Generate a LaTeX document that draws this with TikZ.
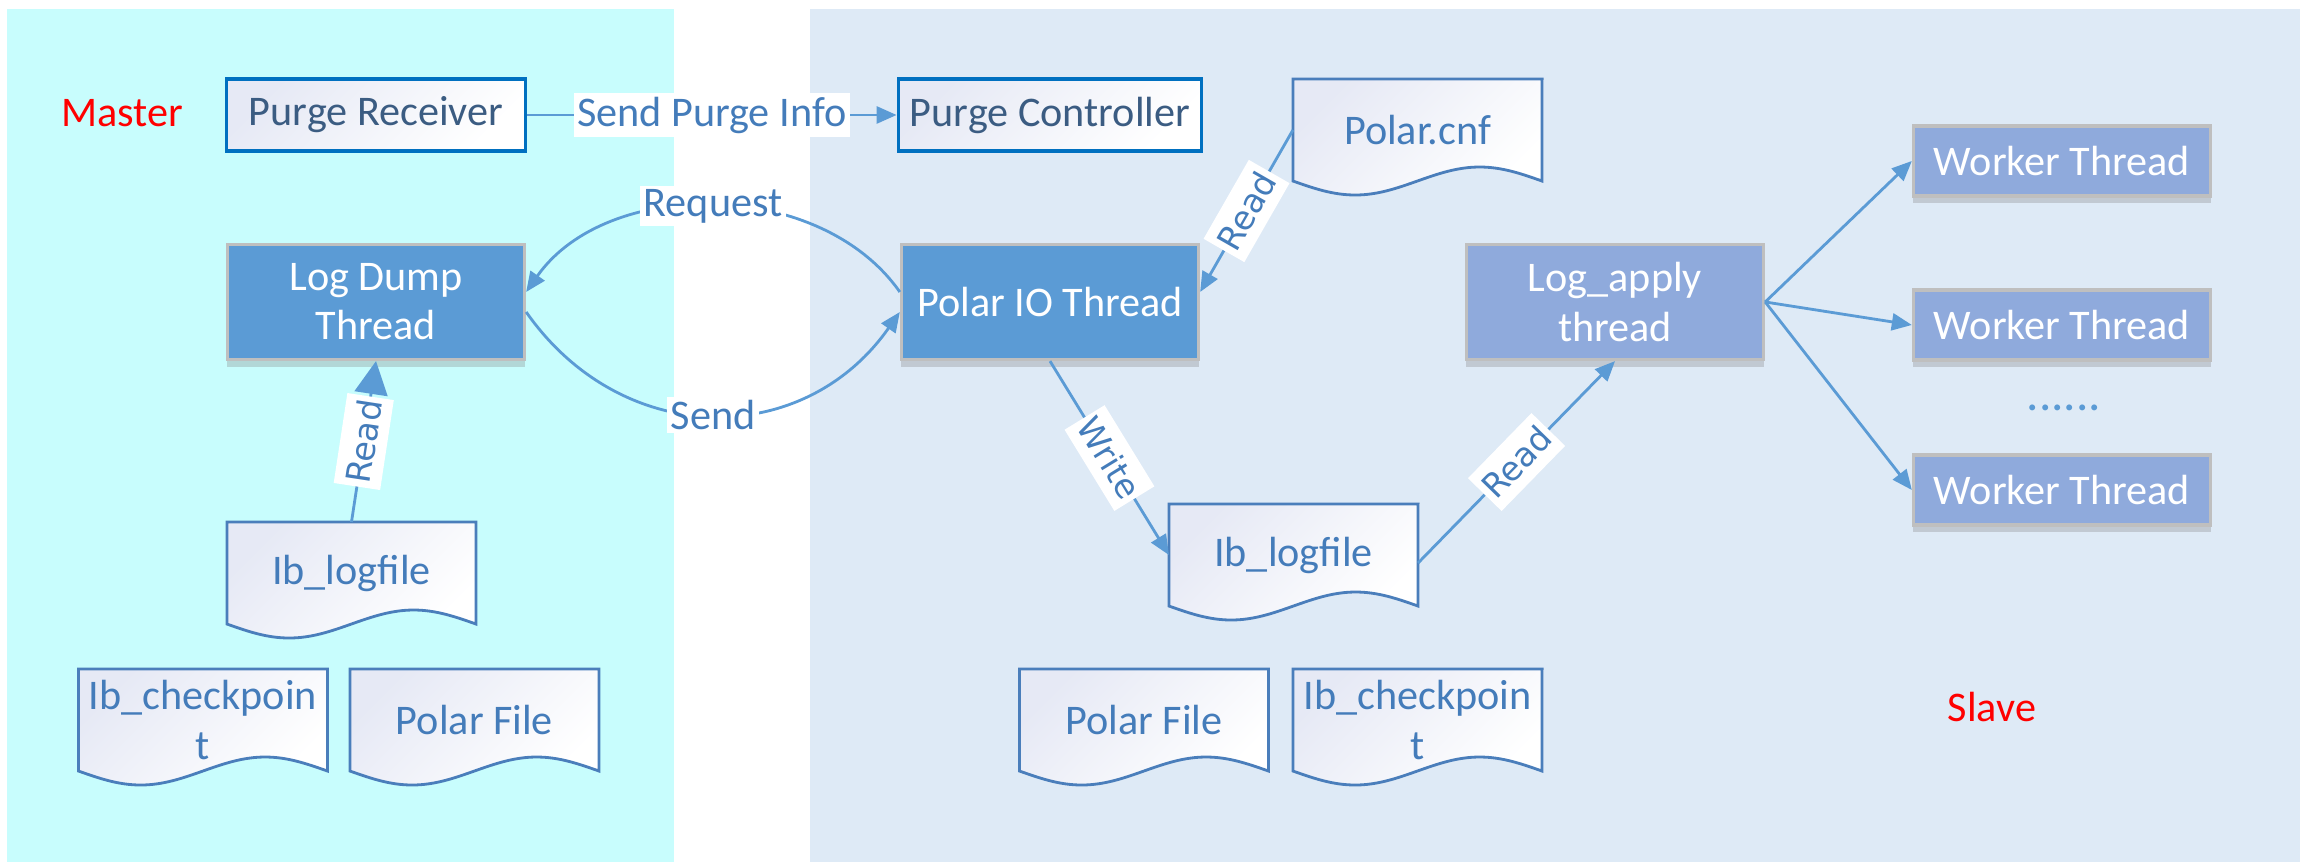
\documentclass[tikz,border=0pt]{standalone}
\usepackage{fontspec}
\setmainfont{Carlito}
\newfontfamily\tagfont{DejaVu Sans}
\usetikzlibrary{arrows.meta,backgrounds,shadows}

\definecolor{masterbg}{RGB}{200,253,253}
\definecolor{slavebg}{RGB}{222,234,246}
\definecolor{dumpblue}{RGB}{91,155,213}
\definecolor{applyblue}{RGB}{143,170,220}
\definecolor{linkblue}{RGB}{91,155,213}
\definecolor{purgeedge}{RGB}{0,112,192}
\definecolor{purgetext}{RGB}{59,92,130}
\definecolor{docedge}{RGB}{74,126,187}
\definecolor{textblue}{RGB}{68,124,186}
\definecolor{papershade}{RGB}{230,233,245}

% file symbol: plain node, wavy outline drawn behind it
\newcommand{\docfile}[3]{%
  \node[doc] (#1) at (#2) {#3};
  \begin{scope}[on background layer]
    \draw[docline] (#1.south west) sin ++(62.25,14) cos ++(62.25,-14)
      sin ++(62.25,-14) cos ++(62.25,14) -- (#1.north east) -- (#1.north west) -- cycle;
  \end{scope}}

\begin{document}
\begin{tikzpicture}[x=0.01cm, y=-0.01cm, font=\fontsize{12}{14}\selectfont,
  >={Triangle[length=2mm,width=1.7mm]},
  purge/.style={draw=purgeedge, line width=0.9pt, top color=papershade, bottom color=white, shading angle=45, text=purgetext, minimum width=2.98cm, minimum height=0.72cm},
  box/.style={draw=black!25, line width=0.9pt, text=white, align=center, minimum width=2.97cm, drop shadow={shadow xshift=0pt, shadow yshift=-0.7mm, opacity=0.3}},
  dumpbox/.style={box, fill=dumpblue, minimum height=1.15cm},
  applybox/.style={box, fill=applyblue, minimum height=1.15cm},
  worker/.style={box, fill=applyblue, minimum height=0.70cm},
  doc/.style={inner sep=0pt, outer sep=0pt, minimum width=2.49cm, minimum height=1.02cm, text=textblue, align=center},
  docline/.style={draw=docedge, line width=0.8pt, top color=papershade, bottom color=white, shading angle=45},
  link/.style={draw=linkblue, line width=0.8pt},
  tag/.style={fill=white, text=textblue, inner sep=1pt},
  rtag/.style={fill=white, text=textblue, font=\tagfont\fontsize{9.5}{11}\selectfont, inner xsep=1pt, inner ysep=3pt, sloped},
  rolelabel/.style={text=red}]
\useasboundingbox (0,0) rectangle (2300,862);
\begin{scope}[on background layer]
\fill[masterbg] (7,9) rectangle (674,862);
\fill[slavebg] (810,9) rectangle (2300,862);
\end{scope}

\node[rolelabel] (master) at (122,113) {Master};
\node[rolelabel] (slave) at (1992,707) {Slave};

\node[purge] (recv) at (376,115) {Purge Receiver};
\node[purge] (ctrl) at (1050,115) {Purge Controller};
\node[dumpbox] (dump) at (376,302) {Log Dump\\Thread};
\node[dumpbox] (polario) at (1050,302) {Polar IO Thread};
\node[applybox] (apply) at (1615,302) {Log\_apply\\thread};
\node[worker] (wk1) at (2062,161) {Worker Thread};
\node[worker] (wk2) at (2062,325) {Worker Thread};
\node[worker] (wk3) at (2062,490) {Worker Thread};
\node[text=linkblue, font=\fontsize{14}{16}\selectfont] (dots) at (2064,408) {......};

\docfile{cnf}{1417.5,130}{Polar.cnf}
\docfile{logA}{351.5,573}{Ib\_logfile}
\docfile{ckA}{203,720}{Ib\_checkpoin\\t}
\docfile{pfA}{474.5,720}{Polar File}
\docfile{logB}{1293.5,555}{Ib\_logfile}
\docfile{pfB}{1144,720}{Polar File}
\docfile{ckB}{1417.5,720}{Ib\_checkpoin\\t}

\draw[link,->] (recv) -- node[tag] {Send Purge Info} (ctrl);
\draw[link,->] ([yshift=1mm]polario.west) to[out=125,in=55,looseness=0.96] node[tag] {Request} ([yshift=1mm]dump.east);
\draw[link,->] ([yshift=-1mm]dump.east) to[out=-55,in=-125,looseness=1.15] node[tag] {Send} ([yshift=-1mm]polario.west);
\draw[link,->] (cnf.west) -- node[rtag] {Read} ([yshift=1mm]polario.east);
\draw[link,-{Triangle[length=3.3mm,width=3.3mm]}] (logA.north) -- node[rtag] {Read} (dump.south);
\draw[link,->] (polario.south) -- node[rtag] {Write} (logB.west);
\draw[link,->] ([yshift=-0.8mm]logB.east) -- node[rtag] {Read} (apply.south);
\foreach \w in {wk1,wk2,wk3}
  \draw[link,->] (apply.east) -- (\w.west);
\end{tikzpicture}
\end{document}
